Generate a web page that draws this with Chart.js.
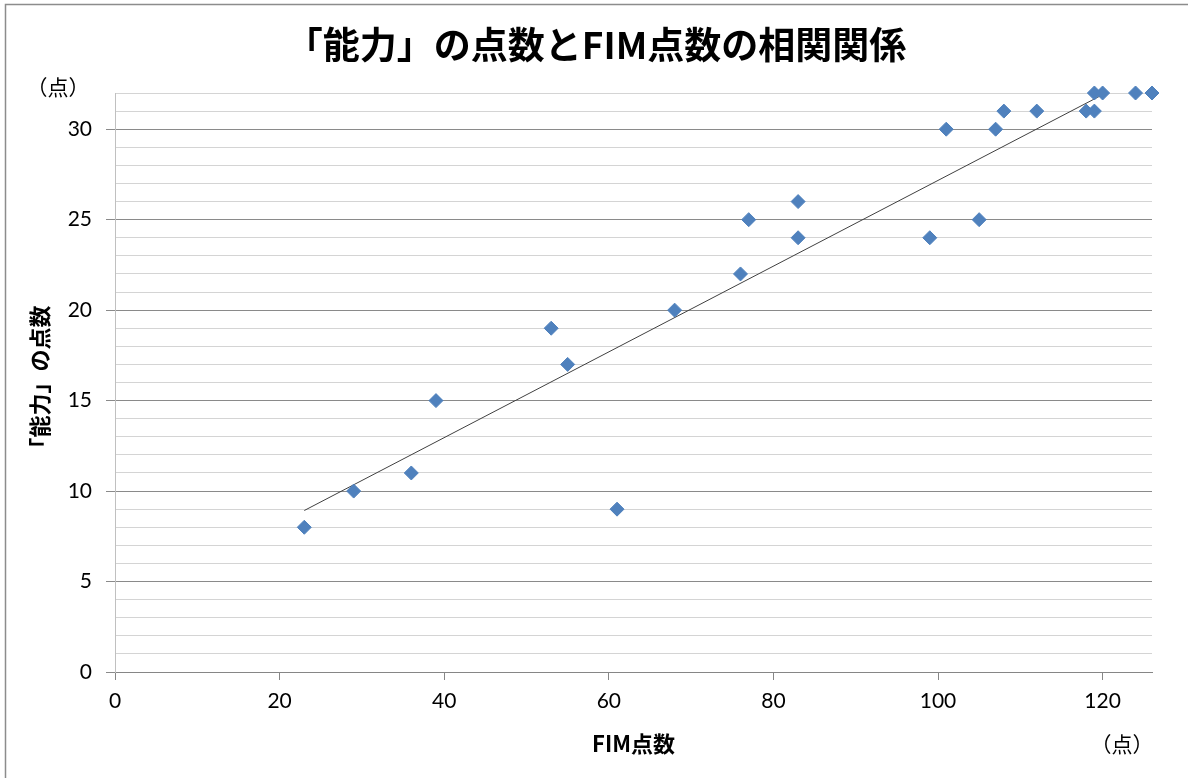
<!DOCTYPE html>
<html>
<head>
<meta charset="utf-8">
<script src="https://cdn.jsdelivr.net/npm/chart.js@4"></script>
<style>
  html, body { margin: 0; padding: 0; background: #fff; }
  #wrap { width: 1188px; height: 778px; position: relative; }
</style>
</head>
<body>
<div id="wrap"><canvas id="c" width="1188" height="778"></canvas></div>
<script>
// FIM score (x) vs "能力" score (y)
const fimScores = [23, 29, 36, 39, 53, 55, 61, 68, 76, 77, 83, 83, 99, 101, 105, 107, 108, 112, 118, 119, 119, 120, 124, 126];
const abilityScores = [8, 10, 11, 15, 19, 17, 9, 20, 22, 25, 26, 24, 24, 30, 25, 30, 31, 31, 31, 31, 32, 32, 32, 32];
const xTicks = [0, 20, 40, 60, 80, 100, 120];
const yLabelEvery = 5;

const chartTitle = '「能力」の点数とFIM点数の相関関係';
const xTitle = 'FIM点数';
const yTitle = '「能力」の点数';
const unitLabel = '（点）';

const JP = '"Noto Sans CJK JP", "Noto Sans", sans-serif';
const NUM = 'Lato, "Open Sans", sans-serif';

const points = fimScores.map((x, i) => ({ x, y: abilityScores[i] }));

// least squares trend line (Excel linear trendline)
const n = points.length;
const mx = fimScores.reduce((a, b) => a + b, 0) / n;
const my = abilityScores.reduce((a, b) => a + b, 0) / n;
let sxy = 0, sxx = 0;
points.forEach(p => { sxy += (p.x - mx) * (p.y - my); sxx += (p.x - mx) ** 2; });
const slope = sxy / sxx;
const icpt = my - slope * mx;
const xMin = Math.min(...fimScores), xMax = Math.max(...fimScores);
const trend = [{ x: xMin, y: icpt + slope * xMin }, { x: xMax, y: icpt + slope * xMax }];

const decor = {
  id: 'decor',
  afterDraw(chart) {
    const { ctx, chartArea } = chart;
    ctx.save();
    // outer frame
    ctx.strokeStyle = '#8c8c8c';
    ctx.lineWidth = 1.5;
    ctx.strokeRect(5.5, 4.5, 1200, 800);
    ctx.fillStyle = '#000';
    ctx.textAlign = 'center';
    ctx.textBaseline = 'middle';
    ctx.font = 'bold 37px ' + JP;
    ctx.fillText(chartTitle, 596, 45);
    ctx.font = 'bold 22px ' + JP;
    ctx.fillText(xTitle, (chartArea.left + chartArea.right) / 2, 744);
    ctx.font = '21px ' + JP;
    ctx.fillText(unitLabel, 1122, 744);
    ctx.fillText(unitLabel, 58, 87);
    ctx.translate(40, (chartArea.top + chartArea.bottom) / 2);
    ctx.rotate(-Math.PI / 2);
    ctx.font = 'bold 22px ' + JP;
    ctx.fillText(yTitle, 0, 0);
    ctx.restore();
  }
};

new Chart(document.getElementById('c'), {
  type: 'scatter',
  data: {
    datasets: [
      {
        data: points,
        clip: false,
        pointStyle: 'rectRot',
        pointRadius: 7,
        pointHoverRadius: 7,
        backgroundColor: '#4F81BD',
        borderColor: '#4F81BD',
        borderWidth: 1
      },
      {
        type: 'line',
        data: trend,
        borderColor: '#404040',
        borderWidth: 1,
        pointRadius: 0,
        fill: false
      }
    ]
  },
  options: {
    responsive: false,
    animation: false,
    events: [],
    layout: { padding: { top: 93, right: 36, left: 0, bottom: 0 } },
    plugins: { legend: { display: false }, tooltip: { enabled: false } },
    scales: {
      x: {
        type: 'linear',
        min: 0,
        max: 126,
        afterBuildTicks: (s) => { s.ticks = xTicks.map(v => ({ value: v })); },
        afterFit: (s) => { s.height = 106; },
        grid: { drawOnChartArea: false, drawTicks: true, tickLength: 8, color: '#868686' },
        border: { color: '#868686', width: 1 },
        ticks: { color: '#000', font: { family: NUM, size: 21 }, padding: 9, maxRotation: 0 }
      },
      y: {
        min: 0,
        max: 32,
        afterFit: (s) => { s.width = 115; },
        grid: {
          color: (c) => (c.tick && c.tick.value % yLabelEvery === 0 ? '#8a8a8a' : '#d4d4d4'),
          tickColor: (c) => (c.tick && c.tick.value % yLabelEvery === 0 ? '#8a8a8a' : 'rgba(0,0,0,0)'),
          tickLength: 9,
          lineWidth: 1
        },
        border: { color: '#c0c0c0', width: 1 },
        ticks: {
          stepSize: 1,
          autoSkip: false,
          color: '#000',
          font: { family: NUM, size: 21 },
          padding: 14,
          callback: (v) => (v % yLabelEvery === 0 ? v : '')
        }
      }
    }
  },
  plugins: [decor]
});
</script>
</body>
</html>
